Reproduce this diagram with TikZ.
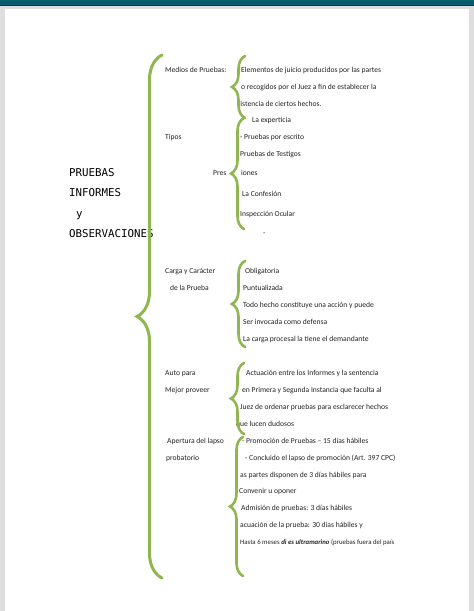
\documentclass[tikz,border=0pt]{standalone}
\usepackage{fontspec}
\setmainfont{Carlito}
\newfontfamily\titlefont{DejaVu Sans Mono}
\usetikzlibrary{decorations.pathreplacing,positioning}

\definecolor{leaf}{RGB}{143,182,80}
\definecolor{barteal}{RGB}{8,92,112}
\definecolor{bardark}{RGB}{10,52,66}
\definecolor{frame}{RGB}{222,222,222}
\definecolor{ink}{RGB}{35,35,35}

\begin{document}
\begin{tikzpicture}[x=1pt, y=-1pt,
    item/.style={anchor=base west, inner sep=0pt, text=ink, font=\fontsize{7.6}{8}\selectfont},
    small/.style={item, font=\fontsize{6.8}{7}\selectfont},
    heading/.style={anchor=base west, inner sep=0pt, text=black, font=\titlefont\fontsize{10.8}{12}\selectfont},
    bigbrace/.style={decorate, decoration={brace, amplitude=25pt}, draw=leaf, line width=3pt, line cap=round},
    subbrace/.style={decorate, decoration={brace, amplitude=13pt}, draw=leaf, line width=2.6pt, line cap=round},
  ]
  % page frame
  \useasboundingbox (0,0) rectangle (474,611);
  \fill[frame] (0,0) rectangle (474,611);
  \fill[barteal] (0,0) rectangle (474,4.5);
  \fill[bardark] (0,4.5) rectangle (474,6);
  \fill[white] (5,9) rectangle (469,611);

  % title on the left
  \node[heading] (t1) at (69,176) {PRUEBAS};
  \node[heading] (t2) at (69,196) {INFORMES};
  \node[heading] (t3) at (76,217) {y};
  \node[heading] (t4) at (69,237) {OBSERVACIONES};

  % main brace
  \coordinate (mainbot) at (162,578);
  \coordinate (maintop) at (162,55);
  \draw[bigbrace] (mainbot) -- (maintop);

  % Medios de Pruebas
  \node[item] (medios) at (165,72) {Medios de Pruebas:};
  \node[item] (m1) at (241,72) {Elementos de juicio producidos por las partes};
  \node[item] (m2) at (241,89) {o recogidos por el Juez a fin de establecer la};
  \node[item] (m3) at (237,106) {xistencia de ciertos hechos.};
  \coordinate (b1bot) at (245,118);
  \coordinate (b1top) at (245,56);
  \draw[subbrace] (b1bot) -- (b1top);

  % Tipos
  \node[item] (tipos) at (165,139) {Tipos};
  \node[item] (p1) at (252,122) {La experticia};
  \node[item] (p2) at (240,139) {- Pruebas por escrito};
  \node[item] (p3) at (240,156) {Pruebas de Testigos};
  \node[item] (pres) at (213,175) {Pres};
  \node[item] (p4) at (241,175) {iones};
  \node[item] (p5) at (242,196) {La Confesión};
  \node[item] (p6) at (240,216) {Inspección Ocular};
  \node[item] (p7) at (263,235) {-};
  \coordinate (b2bot) at (244,229);
  \coordinate (b2top) at (244,118);
  \draw[subbrace] (b2bot) -- (b2top);

  % Carga y Caracter
  \node[item] (carga) at (165,273) {Carga y Carácter};
  \node[item] (carga2) at (170,290) {de la Prueba};
  \node[item] (c1) at (245,273) {Obligatoria};
  \node[item] (c2) at (243,290) {Puntualizada};
  \node[item] (c3) at (243,307) {Todo hecho constituye una acción y puede};
  \node[item] (c4) at (243,324) {Ser invocada como defensa};
  \node[item] (c5) at (243,341) {La carga procesal la tiene el demandante};
  \coordinate (b3bot) at (245,347);
  \coordinate (b3top) at (245,261);
  \draw[subbrace] (b3bot) -- (b3top);

  % Auto para mejor proveer
  \node[item] (auto) at (165,375) {Auto para};
  \node[item] (auto2) at (165,392) {Mejor proveer};
  \node[item] (a1) at (246,375) {Actuación entre los Informes y la sentencia};
  \node[item] (a2) at (242,392) {en Primera y Segunda Instancia que faculta al};
  \node[item] (a3) at (240,409) {Juez de ordenar pruebas para esclarecer hechos};
  \node[item] (a4) at (236,426) {que lucen dudosos};
  \coordinate (b4bot) at (244,434);
  \coordinate (b4top) at (244,363);
  \draw[subbrace] (b4bot) -- (b4top);

  % Apertura del lapso probatorio
  \node[item] (apert) at (167,443) {Apertura del lapso};
  \node[item] (apert2) at (166,460) {probatorio};
  \node[item] (l1) at (242,443) {- Promoción de Pruebas – 15 días hábiles};
  \node[item] (l2) at (245,460) {- Concluido el lapso de promoción (Art. 397 CPC)};
  \node[item] (l3) at (240,477) {as partes disponen de 3 días hábiles para};
  \node[item] (l4) at (239,493) {Convenir u oponer};
  \node[item] (l5) at (241,510) {Admisión de pruebas: 3 días hábiles};
  \node[item] (l6) at (240,527) {acuación de la prueba: 30 días hábiles y};
  \node[small] (l7) at (240,544) {Hasta 6 meses \textbf{\textit{di es ultramarino}} (pruebas fuera del país};
  \coordinate (b5bot) at (243,576);
  \coordinate (b5top) at (243,437);
  \draw[subbrace] (b5bot) -- (b5top);
\end{tikzpicture}
\end{document}
